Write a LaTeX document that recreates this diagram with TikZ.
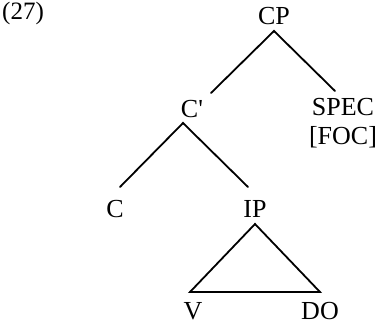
\documentclass[tikz,border=0pt]{standalone}
\usepackage{fontspec}
\setmainfont{Liberation Serif}[Ligatures=TeXOff]
\begin{document}
\begin{tikzpicture}[x=1pt,y=-1pt,
  lbl/.style={anchor=base,inner sep=0pt,font=\fontsize{26}{26}\selectfont},
  branch/.style={line width=1.8pt,line cap=round,line join=miter}]
\useasboundingbox (0,0) rectangle (377,324);
\node[lbl,anchor=base west,font=\fontsize{25}{25}\selectfont] (num) at (2,19) {(27)};
\node[lbl] (CP) at (274,24.5) {CP};
\node[lbl] (Cbar) at (192,117) {C'};
\node[lbl] (SPEC) at (343,115) {SPEC};
\node[lbl] (FOC) at (343,144) {[FOC]};
\node[lbl] (C) at (115,217) {C};
\node[lbl] (IP) at (255,217) {IP};
\node[lbl] (V) at (193,319.5) {V};
\node[lbl] (DO) at (320,319.5) {DO};
\coordinate (cpTop) at (274,31);
\coordinate (cpL) at (211,93);
\coordinate (cpR) at (335,91);
\coordinate (cbTop) at (183,123);
\coordinate (cbL) at (120,187);
\coordinate (cbR) at (248,187);
\coordinate (ipTop) at (255,224);
\coordinate (triL) at (190,292);
\coordinate (triR) at (320,292);
\draw[branch] (cpL) -- (cpTop) -- (cpR);
\draw[branch] (cbL) -- (cbTop) -- (cbR);
\draw[branch] (triL) -- (ipTop) -- (triR) -- cycle;
\end{tikzpicture}
\end{document}
